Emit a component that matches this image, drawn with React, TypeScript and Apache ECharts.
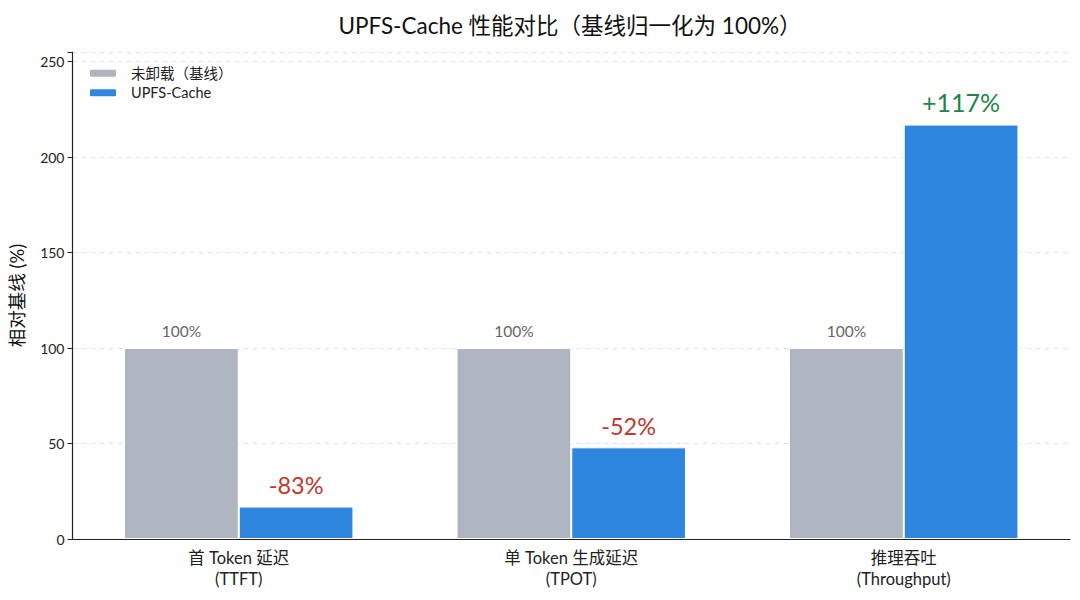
import React, { useEffect, useRef } from "react";
import * as echarts from "echarts";

const categories = ["首 Token 延迟\n(TTFT)", "单 Token 生成延迟\n(TPOT)", "推理吞吐\n(Throughput)"];
const baselineValues = [100, 100, 100];
const cacheValues = [17, 48, 217];
const deltaLabels = ["-83%", "-52%", "+117%"];
const deltaColors = ["#c0392b", "#c0392b", "#1e8449"];
const yTicks = [0, 50, 100, 150, 200, 250];

const FONT = "Lato, 'Noto Sans CJK SC', sans-serif";

export default function App() {
  const ref = useRef<HTMLDivElement>(null);
  useEffect(() => {
    if (!ref.current) return;
    document.body.style.margin = "0";
    const chart = echarts.init(ref.current, undefined, { renderer: "svg" });
    chart.setOption({
      animation: false,
      textStyle: { fontFamily: FONT },
      title: {
        text: "UPFS-Cache 性能对比（基线归一化为 100%）",
        left: 565,
        textAlign: "center",
        top: 9,
        textStyle: { fontFamily: FONT, fontSize: 22.5, fontWeight: "normal", color: "#111" },
      },
      legend: {
        orient: "vertical",
        left: 83,
        top: 61,
        itemWidth: 28,
        itemHeight: 9,
        itemGap: 5,
        textStyle: { fontFamily: FONT, fontSize: 14.5, color: "#222", padding: [0, 0, 0, 9] },
        data: ["未卸载（基线）", "UPFS-Cache"],
      },
      grid: { left: 72, right: 10, top: 52, bottom: 61, containLabel: false },
      xAxis: {
        type: "category",
        data: categories,
        axisLine: { lineStyle: { color: "#222", width: 1.2 } },
        axisTick: { alignWithLabel: true, length: 5, lineStyle: { color: "#222" } },
        axisLabel: { fontFamily: FONT, fontSize: 16.5, color: "#222", lineHeight: 21, margin: 8 },
      },
      yAxis: {
        type: "value",
        min: 0,
        max: 255,
        interval: 50,
        name: "相对基线 (%)",
        nameLocation: "middle",
        nameGap: 46,
        nameTextStyle: { fontFamily: FONT, fontSize: 18.5, color: "#111" },
        axisLine: { show: true, lineStyle: { color: "#222", width: 1.2 } },
        axisTick: { show: true, length: 5, lineStyle: { color: "#222" } },
        axisLabel: {
          fontFamily: FONT,
          fontSize: 14,
          color: "#222",
          formatter: (v: number) => (yTicks.includes(v) ? String(v) : ""),
        },
        splitLine: { show: true, lineStyle: { color: "#e3e3e3", type: [5, 4], width: 1 } },
      },
      series: [
        {
          name: "未卸载（基线）",
          type: "bar",
          data: baselineValues,
          barWidth: "34.5%",
          barGap: "0%",
          itemStyle: { color: "#aeb4c0", borderColor: "#fff", borderWidth: 1 },
          label: {
            show: true,
            position: "top",
            distance: 9,
            formatter: (p: any) => `${p.value}%`,
            fontFamily: FONT,
            fontSize: 15.5,
            color: "#666",
          },
        },
        {
          name: "UPFS-Cache",
          type: "bar",
          data: cacheValues.map((v, i) => ({
            value: v,
            label: { color: deltaColors[i], fontSize: i === 2 ? 25 : 23.5 },
          })),
          barWidth: "34.5%",
          itemStyle: { color: "#2e86de", borderColor: "#fff", borderWidth: 1 },
          label: {
            show: true,
            position: "top",
            distance: 10,
            formatter: (p: any) => deltaLabels[p.dataIndex],
            fontFamily: FONT,
          },
        },
      ],
    });
    return () => chart.dispose();
  }, []);
  return <div ref={ref} style={{ width: 1080, height: 600 }} />;
}
